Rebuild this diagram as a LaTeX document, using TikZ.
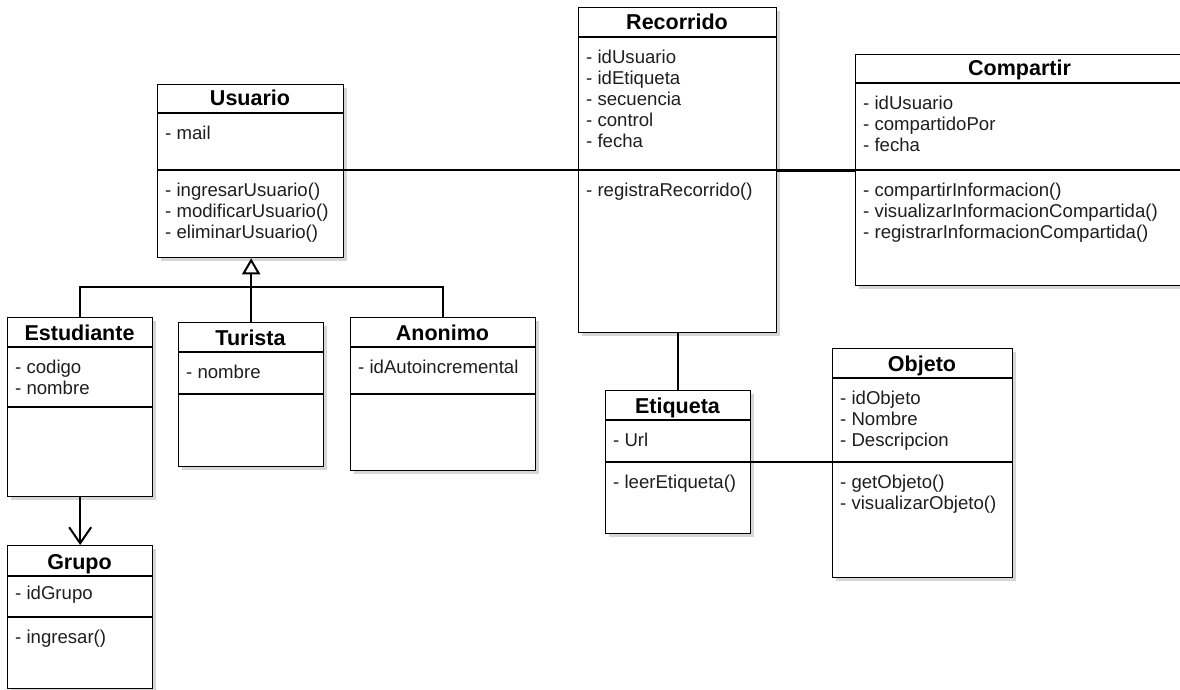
\documentclass[tikz,border=0pt]{standalone}
\usepackage{fontspec}
\setmainfont{Liberation Sans}
\usetikzlibrary{arrows.meta,shadows}

\newcommand\titlesize{\fontsize{21.5}{24}\selectfont\bfseries}
\newcommand\membersize{\fontsize{18.6}{21}\selectfont}

\tikzset{
  classbox/.style={draw=black, line width=1.3pt, fill=white, inner sep=0pt, anchor=north west,
    drop shadow={shadow xshift=3pt, shadow yshift=-3pt, fill=black, opacity=0.16}},
  divider/.style={line width=1.3pt},
  classname/.style={font=\titlesize, anchor=base, inner sep=0pt},
  member/.style={font=\membersize, anchor=base west, inner sep=0pt, text=black!88},
  link/.style={line width=2pt},
}

% class box: #1 name, #2 left, #3 top, #4 right, #5 bottom,
% #6 y of the title divider, #7 y of the attribute divider, #8 class name
\newcommand\umlclass[8]{%
  \node[classbox, minimum width={#4pt-#2pt}, minimum height={#5pt-#3pt}] (#1) at (#2,#3) {};
  \coordinate (#1-d1w) at (#2,#6);
  \coordinate (#1-d1e) at (#4,#6);
  \coordinate (#1-d2w) at (#2,#7);
  \coordinate (#1-d2e) at (#4,#7);
  \draw[divider] (#1-d1w) -- (#1-d1e);
  \draw[divider] (#1-d2w) -- (#1-d2e);
  \node[classname] (#1-name) at ({(#2+#4)/2},{#6-7}) {#8};
}

% member rows: #1 name prefix, #2 left of the box, #3 y of the divider above, #4 rows
\newcommand\umlrows[4]{%
  \foreach \mtext [count=\k from 0] in {#4}
    \node[member] (#1\k) at ({#2+8},{#3+26.5+21*\k}) {\mtext};
}

\begin{document}
\begin{tikzpicture}[x=1pt, y=-1pt]
  \useasboundingbox (0,0) rectangle (1180,690);
  \clip (0,0) rectangle (1180,690);

  % Usuario
  \umlclass{usuario}{157}{84}{343}{257}{113}{170}{Usuario}
  \umlrows{usuario-a}{157}{113}{- mail}
  \umlrows{usuario-m}{157}{170}{- ingresarUsuario(), - modificarUsuario(), - eliminarUsuario()}

  % Estudiante
  \umlclass{estudiante}{7}{317}{152}{496}{347}{407}{Estudiante}
  \umlrows{estudiante-a}{7}{347}{- codigo, - nombre}

  % Turista
  \umlclass{turista}{178}{322}{323}{466}{352}{394}{Turista}
  \umlrows{turista-a}{178}{352}{- nombre}

  % Anonimo
  \umlclass{anonimo}{350}{317}{535}{470}{347}{394}{Anonimo}
  \umlrows{anonimo-a}{350}{347}{- idAutoincremental}

  % Grupo
  \umlclass{grupo}{7}{545}{152}{688}{576}{617}{Grupo}
  \umlrows{grupo-a}{7}{573}{- idGrupo}
  \umlrows{grupo-m}{7}{617}{- ingresar()}

  % Recorrido
  \umlclass{recorrido}{578}{7}{776}{332}{37}{170}{Recorrido}
  \umlrows{recorrido-a}{578}{37}{- idUsuario, - idEtiqueta, - secuencia, - control, - fecha}
  \umlrows{recorrido-m}{578}{170}{- registraRecorrido()}

  % Compartir
  \umlclass{compartir}{855}{54}{1184}{285}{83}{170}{Compartir}
  \umlrows{compartir-a}{855}{83}{- idUsuario, - compartidoPor, - fecha}
  \umlrows{compartir-m}{855}{170}{- compartirInformacion(), - visualizarInformacionCompartida(), - registrarInformacionCompartida()}

  % Etiqueta
  \umlclass{etiqueta}{605}{390}{750}{533}{420}{462}{Etiqueta}
  \umlrows{etiqueta-a}{605}{420}{- Url}
  \umlrows{etiqueta-m}{605}{462}{- leerEtiqueta()}

  % Objeto
  \umlclass{objeto}{832}{348}{1012}{577}{378}{462}{Objeto}
  \umlrows{objeto-a}{832}{378}{- idObjeto, - Nombre, - Descripcion}
  \umlrows{objeto-m}{832}{462}{- getObjeto(), - visualizarObjeto()}

  % generalization towards Usuario
  \coordinate (genbar) at (250,287);
  \draw[link, -{Triangle[open, length=16pt, width=18pt]}]
    (turista.north) -- (turista.north |- usuario.south);
  \draw[link] (estudiante.north) |- (genbar) -| (anonimo.north);

  % associations
  \draw[link] (usuario-d2e) -- (recorrido-d2w);
  \draw[line width=3pt] (recorrido-d2e) -- (compartir-d2w);
  \draw[link] (recorrido.south) -- (recorrido.south |- etiqueta.north);
  \draw[link] (etiqueta-d2e) -- (objeto-d2w);
  \draw[link, -{Straight Barb[length=16pt, width=22pt]}] (estudiante.south) -- (grupo.north);
\end{tikzpicture}
\end{document}
